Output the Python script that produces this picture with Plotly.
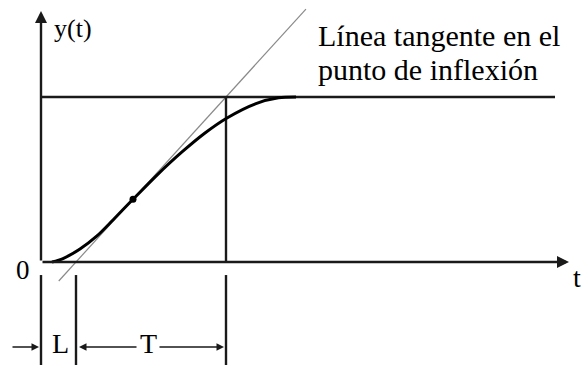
import plotly.graph_objects as go

# Process reaction curve (S-shaped step response), time in arbitrary units
t_curve = [2.2, 4.4, 7.8, 11.2, 14.4, 18.4, 23.2, 28.2, 32.8, 37.2, 43.0, 47.5, 51.0]
y_curve = [0.0, 0.021, 0.079, 0.158, 0.255, 0.38, 0.527, 0.667, 0.782, 0.873, 0.960, 0.995, 1.0]

# Dead time L and time constant T read from the tangent construction
L = 7.0
T = 30.0
K = 1.0  # steady-state value
t_end = 102.8  # end of the steady-state line

# Inflection point on the curve
t_inf = 18.4
y_inf = 0.38

# Tangent extent (in y units)
y_tan = [-0.115, 1.533]
t_tan = [L + T * v for v in y_tan]

FONT = "Liberation Serif"
INK = "#1a1a1a"

fig = go.Figure()

# tangent line at the inflection point
fig.add_trace(go.Scatter(x=t_tan, y=y_tan, mode="lines",
                         line=dict(color="#8a8a8a", width=1.2),
                         hoverinfo="skip", showlegend=False))
# steady-state level
fig.add_trace(go.Scatter(x=[0, t_end], y=[K, K], mode="lines",
                         line=dict(color=INK, width=2.4),
                         hoverinfo="skip", showlegend=False))
# vertical at L+T
fig.add_trace(go.Scatter(x=[L + T, L + T], y=[0, K], mode="lines",
                         line=dict(color=INK, width=2.4),
                         hoverinfo="skip", showlegend=False))
# response curve
fig.add_trace(go.Scatter(x=t_curve, y=y_curve, mode="lines",
                         line=dict(color="black", width=3, shape="spline", smoothing=0.8),
                         hoverinfo="skip", showlegend=False))
# inflection point marker
fig.add_trace(go.Scatter(x=[t_inf], y=[y_inf], mode="markers",
                         marker=dict(color="black", size=7),
                         hoverinfo="skip", showlegend=False))

# dimension guide lines below the time axis
y_lo, y_hi = -0.65, -0.079
for xv in [0, L, L + T]:
    fig.add_trace(go.Scatter(x=[xv, xv], y=[y_lo, y_hi], mode="lines",
                             line=dict(color=INK, width=2.4),
                             hoverinfo="skip", showlegend=False))

annotations = []


def arrow(x, y, ax, ay, width=2, size=1.0):
    annotations.append(dict(x=x, y=y, ax=ax, ay=ay, xref="x", yref="y",
                            axref="x", ayref="y", text="", showarrow=True,
                            arrowhead=2, arrowsize=size, arrowwidth=width,
                            arrowcolor=INK, standoff=0, startstandoff=0))


def label(text, x, y, size, xanchor="center"):
    annotations.append(dict(x=x, y=y, xref="x", yref="y", text=text,
                            showarrow=False, xanchor=xanchor, yanchor="middle",
                            font=dict(family=FONT, size=size, color="black")))


# axes with arrowheads
arrow(0, 1.521, 0, 0, width=2.4, size=1.0)
arrow(105.6, 0, 0, 0, width=2.4, size=1.0)

# L and T dimension arrows
arrow(-0.4, -0.515, -6.0, -0.515, width=1.5, size=1.0)
arrow(7.6, -0.515, 19.4, -0.515, width=1.5, size=1.0)
arrow(36.6, -0.515, 23.4, -0.515, width=1.5, size=1.0)

label("y(t)", 2.2, 1.418, 26, xanchor="left")
label("Línea tangente en el", 55.0, 1.373, 30, xanchor="left")
label("punto de inflexión", 55.0, 1.167, 30, xanchor="left")
label("0", -3.6, -0.048, 27)
label("L", 3.8, -0.491, 28)
label("T", 21.4, -0.491, 28)
label("t", 108.4, -0.091, 28, xanchor="right")

fig.update_layout(
    width=584, height=365,
    margin=dict(l=0, r=0, t=0, b=0),
    paper_bgcolor="white", plot_bgcolor="white",
    xaxis=dict(range=[-8.2, 108.6], visible=False, fixedrange=True),
    yaxis=dict(range=[-0.6242, 1.5879], visible=False, fixedrange=True),
    annotations=annotations,
    showlegend=False,
)

fig.write_html("out.html")
